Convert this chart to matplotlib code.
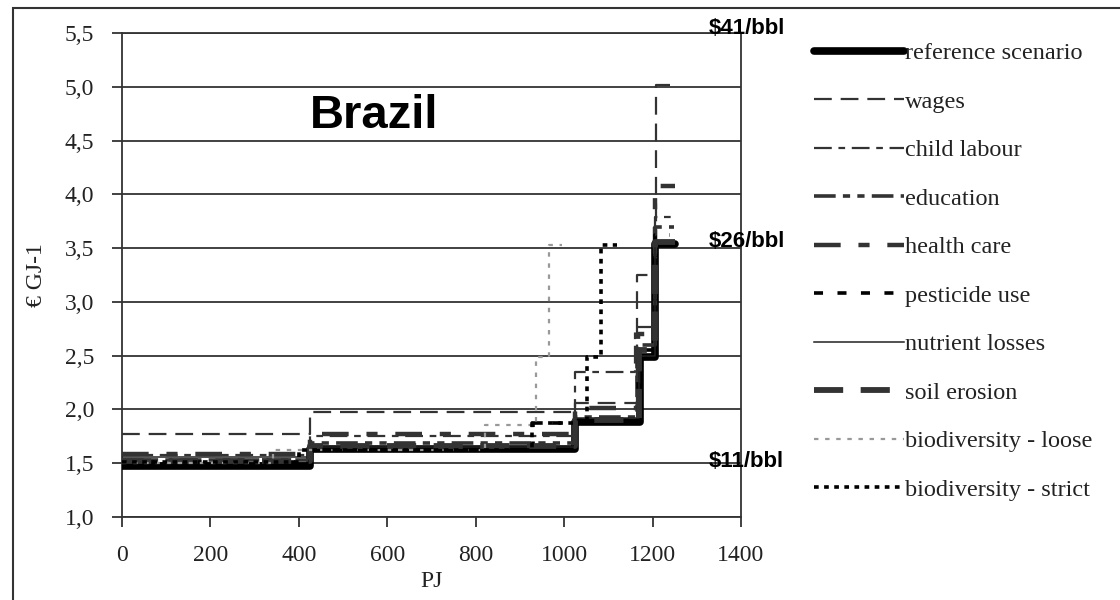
"""Curvas de custo (step) para o Brasil, com cenários de sustentabilidade."""

import matplotlib
matplotlib.use("Agg")
import matplotlib.pyplot as plt
from matplotlib.patches import Rectangle
from matplotlib.ticker import FuncFormatter

# limites de cada degrau (PJ) e custo de cada degrau (EUR/GJ)
ref_x = [0, 425, 1025, 1172, 1205, 1250]
ref_y = [1.47, 1.63, 1.88, 2.49, 3.54]
wages_x = [0, 425, 1025, 1165, 1208, 1240]
wages_y = [1.77, 1.98, 2.06, 3.25, 5.02]
child_x = [0, 425, 1025, 1160, 1205, 1245]
child_y = [1.58, 1.75, 2.35, 2.77, 3.79]
educ_x = [0, 425, 1025, 1165, 1205, 1248]
educ_y = [1.53, 1.69, 1.93, 2.60, 3.70]
health_x = [0, 425, 1025, 1168, 1205, 1250]
health_y = [1.585, 1.77, 2.01, 2.70, 4.08]
pest_x = [0, 425, 930, 1025, 1168, 1205, 1240]
pest_y = [1.51, 1.64, 1.87, 1.90, 2.55, 3.62]
nutr_x = [0, 425, 1025, 1170, 1205, 1240]
nutr_y = [1.56, 1.65, 1.92, 2.50, 3.55]
soil_x = [0, 425, 1025, 1170, 1205, 1250]
soil_y = [1.52, 1.66, 1.90, 2.55, 3.56]
bio_loose_x = [0, 342, 821, 937, 966, 995]
bio_loose_y = [1.50, 1.62, 1.86, 2.49, 3.53]
bio_strict_x = [0, 400, 928, 1052, 1084, 1120]
bio_strict_y = [1.51, 1.62, 1.87, 2.49, 3.53]

oil_labels = ["$41/bbl", "$26/bbl", "$11/bbl"]
oil_values = [5.545, 3.565, 1.52]

x_ticks = [0, 200, 400, 600, 800, 1000, 1200, 1400]
y_ticks = [1.0, 1.5, 2.0, 2.5, 3.0, 3.5, 4.0, 4.5, 5.0, 5.5]

SERIF = "Liberation Serif"
SANS = "Liberation Sans"

series = [
    ("reference scenario", ref_x, ref_y, dict(color="black", lw=5.5, solid_capstyle="round")),
    ("wages", wages_x, wages_y, dict(color="#333333", lw=1.6, dashes=(8, 4))),
    ("child labour", child_x, child_y, dict(color="#333333", lw=1.6, dashes=(8, 3, 3, 3))),
    ("education", educ_x, educ_y, dict(color="#333333", lw=2.6, dashes=(6, 2, 2, 2, 2, 2))),
    ("health care", health_x, health_y, dict(color="#333333", lw=3.2, dashes=(6, 4, 2.5, 4))),
    ("pesticide use", pest_x, pest_y, dict(color="black", lw=2.6, dashes=(2.5, 4))),
    ("nutrient losses", nutr_x, nutr_y, dict(color="#222222", lw=1.1)),
    ("soil erosion", soil_x, soil_y, dict(color="#333333", lw=4.2, dashes=(5, 3))),
    ("biodiversity - loose", bio_loose_x, bio_loose_y, dict(color="#999999", lw=1.6, dashes=(2, 3))),
    ("biodiversity - strict", bio_strict_x, bio_strict_y, dict(color="black", lw=2.6, dashes=(1.3, 1.5))),
]

fig = plt.figure(figsize=(11.2, 6), dpi=100)
ax = fig.add_axes([122 / 1120, 1 - 517 / 600, 619 / 1120, 484 / 600])

for nome, xs, ys, estilo in series:
    ax.step(xs, ys + [ys[-1]], where="post", label=nome, zorder=3, **estilo)

ax.set_xlim(0, 1400)
ax.set_ylim(1.0, 5.5)
ax.set_xticks(x_ticks)
ax.set_yticks(y_ticks)
ax.yaxis.set_major_formatter(FuncFormatter(lambda v, _: f"{v:.1f}".replace(".", ",")))
ax.yaxis.grid(True, color="#333333", lw=1.3)
ax.set_axisbelow(True)
for lado in ax.spines.values():
    lado.set_color("#333333")
    lado.set_linewidth(1.3)
ax.tick_params(direction="out", length=7, width=1.3, color="#333333", pad=13,
               labelsize=17, labelcolor="#222222")
for rot in ax.get_xticklabels() + ax.get_yticklabels():
    rot.set_family(SERIF)

ax.set_xlabel("PJ", family=SERIF, fontsize=17, labelpad=4, color="#222222")
ax.set_ylabel("€ GJ-1", family=SERIF, fontsize=17, labelpad=13, color="#222222")

ax.text(425, 4.62, "Brazil", family=SANS, weight="bold", fontsize=34, va="baseline")
for rot, v in zip(oil_labels, oil_values):
    ax.text(1326, v, rot, family=SANS, weight="bold", fontsize=16, va="center",
            clip_on=False, zorder=5)

leg = fig.legend(loc="upper left", bbox_to_anchor=(814 / 1120, 1 - 42 / 600),
                 frameon=False, borderpad=0, borderaxespad=0, handlelength=3.7,
                 handletextpad=0.05, labelspacing=1.09,
                 prop=dict(family=SERIF, size=17.5))
for t in leg.get_texts():
    t.set_color("#222222")

fig.add_artist(Rectangle((13 / 1120, -0.05), 1.2, 1 - 8 / 600 + 0.05,
                         transform=fig.transFigure, fill=False,
                         edgecolor="#333333", lw=1.5))

fig.savefig("out.png", dpi=100)
